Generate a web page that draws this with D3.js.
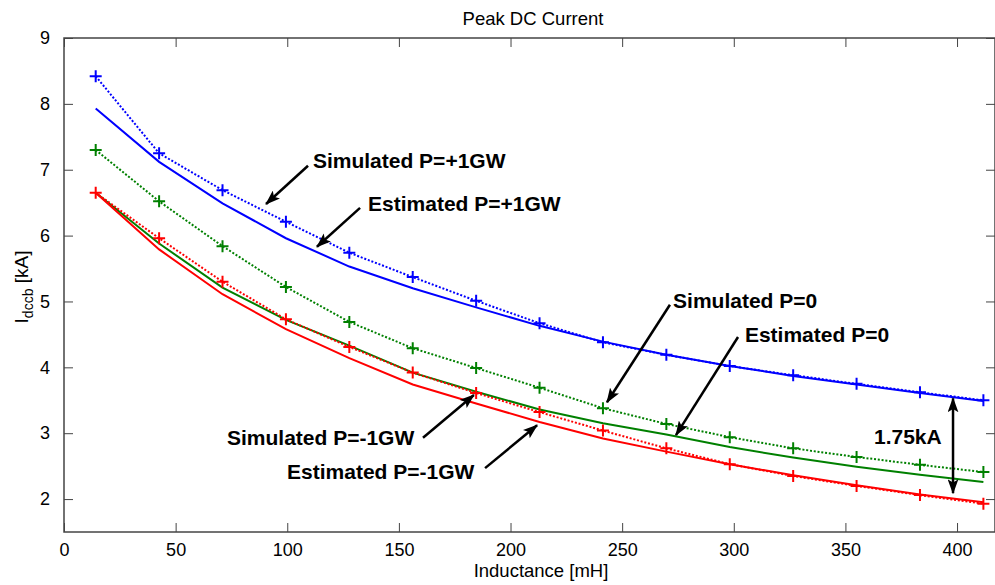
<!DOCTYPE html>
<html>
<head>
<meta charset="utf-8">
<script src="https://cdn.jsdelivr.net/npm/d3@7"></script>
<style>
  body { margin: 0; background: #fff; }
  svg { font-family: "Liberation Sans", Arial, sans-serif; }
  .axis path, .axis line { stroke: #444; }
  .axis text { font-size: 18px; fill: #000; }
</style>
</head>
<body>
<svg id="chart" width="995" height="585"></svg>
<script>
// inductance values [mH]
const inductance = [14.2, 42.6, 71, 99.4, 127.8, 156.2, 184.6, 213, 241.4, 269.8, 298.2, 326.6, 355, 383.4, 411.8];

// peak dc current [kA]
const simPos = [8.42, 7.25, 6.69, 6.21, 5.74, 5.37, 5.01, 4.67, 4.38, 4.19, 4.02, 3.88, 3.75, 3.62, 3.50];
const estPos = [7.93, 7.12, 6.49, 5.96, 5.53, 5.20, 4.91, 4.63, 4.39, 4.19, 4.02, 3.87, 3.74, 3.61, 3.49];
const simZero = [7.30, 6.52, 5.84, 5.22, 4.69, 4.29, 3.99, 3.69, 3.38, 3.14, 2.94, 2.77, 2.64, 2.52, 2.41];
const estZero = [6.65, 5.88, 5.21, 4.72, 4.33, 3.92, 3.63, 3.36, 3.15, 2.98, 2.79, 2.63, 2.49, 2.37, 2.26];
const simNeg = [6.65, 5.96, 5.30, 4.73, 4.31, 3.92, 3.61, 3.32, 3.04, 2.77, 2.53, 2.35, 2.20, 2.06, 1.93];
const estNeg = [6.65, 5.79, 5.11, 4.58, 4.14, 3.74, 3.45, 3.17, 2.92, 2.72, 2.53, 2.36, 2.21, 2.07, 1.95];

const xTicks = [0, 50, 100, 150, 200, 250, 300, 350, 400];
const yTicks = [2, 3, 4, 5, 6, 7, 8, 9];

// annotation labels and arrows, in data units
const noteText = ["Simulated P=+1GW", "Estimated P=+1GW", "Simulated P=0", "Estimated P=0", "Simulated P=-1GW", "Estimated P=-1GW"];
const noteTextPos = [[111.5, 7.03], [136.2, 6.37], [272.8, 4.90], [305.0, 4.38], [73.0, 2.82], [99.9, 2.30]];
const noteArrows = [[109.3, 7.06, 90.5, 6.48], [132.6, 6.42, 113.3, 5.83], [271.4, 4.95, 243.2, 3.47],
                    [301.9, 4.46, 274.1, 2.97], [160.8, 2.93, 183.6, 3.58], [188.6, 2.47, 211.9, 3.12]];
const gapLabel = "1.75kA";
const gapLabelPos = [362.8, 2.84];
const gapArrow = [398.2, 3.53, 2.09];

const svg = d3.select("#chart");
const plotLeft = 64, plotRight = 995, plotTop = 38, plotBottom = 532;

const xScale = d3.scaleLinear().domain([0, 417]).range([plotLeft, plotRight]);
const yScale = d3.scaleLinear().domain([1.5, 9]).range([plotBottom, plotTop]);

// box + axes
svg.append("rect")
    .attr("x", plotLeft).attr("y", plotTop)
    .attr("width", plotRight - plotLeft).attr("height", plotBottom - plotTop)
    .attr("fill", "none").attr("stroke", "#444").attr("stroke-width", 1.5);

svg.append("g")
    .attr("class", "axis")
    .attr("transform", "translate(0," + plotBottom + ")")
    .call(d3.axisBottom(xScale).tickValues(xTicks).tickSize(-9).tickPadding(11))
    .call(g => g.select(".domain").remove());

svg.append("g")
    .attr("class", "axis")
    .attr("transform", "translate(0," + plotTop + ")")
    .call(d3.axisTop(xScale).tickValues(xTicks).tickSize(-9).tickFormat(""))
    .call(g => g.select(".domain").remove());

svg.append("g")
    .attr("class", "axis")
    .attr("transform", "translate(" + plotLeft + ",0)")
    .call(d3.axisLeft(yScale).tickValues(yTicks).tickSize(-9).tickPadding(14))
    .call(g => g.select(".domain").remove());

svg.append("g")
    .attr("class", "axis")
    .attr("transform", "translate(" + plotRight + ",0)")
    .call(d3.axisRight(yScale).tickValues(yTicks).tickSize(-9).tickFormat(""))
    .call(g => g.select(".domain").remove());

// titles
svg.append("text")
    .attr("x", 533).attr("y", 25)
    .attr("text-anchor", "middle")
    .attr("font-size", 18.5)
    .text("Peak DC Current");

svg.append("text")
    .attr("x", 541).attr("y", 577)
    .attr("text-anchor", "middle")
    .attr("font-size", 18.5)
    .text("Inductance [mH]");

const ylab = svg.append("text")
    .attr("transform", "translate(28,287) rotate(-90)")
    .attr("text-anchor", "middle")
    .attr("font-size", 19);
ylab.append("tspan").text("I");
ylab.append("tspan").attr("font-size", 14).attr("dy", 5).text("dccb");
ylab.append("tspan").attr("dy", -5).text(" [kA]");

// series
const series = [
    { vals: estPos, color: "#0000ff", dotted: false, marks: false },
    { vals: simPos, color: "#0000ff", dotted: true, marks: true },
    { vals: estZero, color: "#008000", dotted: false, marks: false },
    { vals: simZero, color: "#008000", dotted: true, marks: true },
    { vals: simNeg, color: "#ff0000", dotted: true, marks: true },
    { vals: estNeg, color: "#ff0000", dotted: false, marks: false }
];

const line = d3.line()
    .x((d, i) => xScale(inductance[i]))
    .y(d => yScale(d));

series.forEach(function (s) {
    svg.append("path")
        .datum(s.vals)
        .attr("fill", "none")
        .attr("stroke", s.color)
        .attr("stroke-width", 2)
        .attr("stroke-dasharray", s.dotted ? "2,1.8" : null)
        .attr("d", line);

    if (s.marks) {
        svg.append("g").selectAll("path")
            .data(s.vals)
            .enter().append("path")
            .attr("fill", "none")
            .attr("stroke", s.color)
            .attr("stroke-width", 2)
            .attr("d", function (d, i) {
                const cx = xScale(inductance[i]), cy = yScale(d), r = 6;
                return "M" + (cx - r) + "," + cy + "H" + (cx + r) + "M" + cx + "," + (cy - r) + "V" + (cy + r);
            });
    }
});

// arrow head marker
const defs = svg.append("defs");
defs.append("marker")
    .attr("id", "head")
    .attr("viewBox", "0 0 14 10")
    .attr("refX", 13).attr("refY", 5)
    .attr("markerUnits", "userSpaceOnUse")
    .attr("markerWidth", 15).attr("markerHeight", 11)
    .attr("orient", "auto-start-reverse")
    .append("path")
    .attr("d", "M0,0 L14,5 L0,10 L3,5 Z")
    .attr("fill", "#000");

// annotations
svg.append("g").selectAll("text")
    .data(noteText)
    .enter().append("text")
    .attr("x", (d, i) => xScale(noteTextPos[i][0]))
    .attr("y", (d, i) => yScale(noteTextPos[i][1]))
    .attr("font-size", 21)
    .attr("font-weight", "bold")
    .text(d => d);

svg.append("g").selectAll("line")
    .data(noteArrows)
    .enter().append("line")
    .attr("x1", d => xScale(d[0])).attr("y1", d => yScale(d[1]))
    .attr("x2", d => xScale(d[2])).attr("y2", d => yScale(d[3]))
    .attr("stroke", "#000")
    .attr("stroke-width", 2.5)
    .attr("marker-end", "url(#head)");

svg.append("text")
    .attr("x", xScale(gapLabelPos[0]))
    .attr("y", yScale(gapLabelPos[1]))
    .attr("font-size", 21)
    .attr("font-weight", "bold")
    .text(gapLabel);

svg.append("line")
    .attr("x1", xScale(gapArrow[0])).attr("y1", yScale(gapArrow[1]))
    .attr("x2", xScale(gapArrow[0])).attr("y2", yScale(gapArrow[2]))
    .attr("stroke", "#000")
    .attr("stroke-width", 2.5)
    .attr("marker-start", "url(#head)")
    .attr("marker-end", "url(#head)");
</script>
</body>
</html>
